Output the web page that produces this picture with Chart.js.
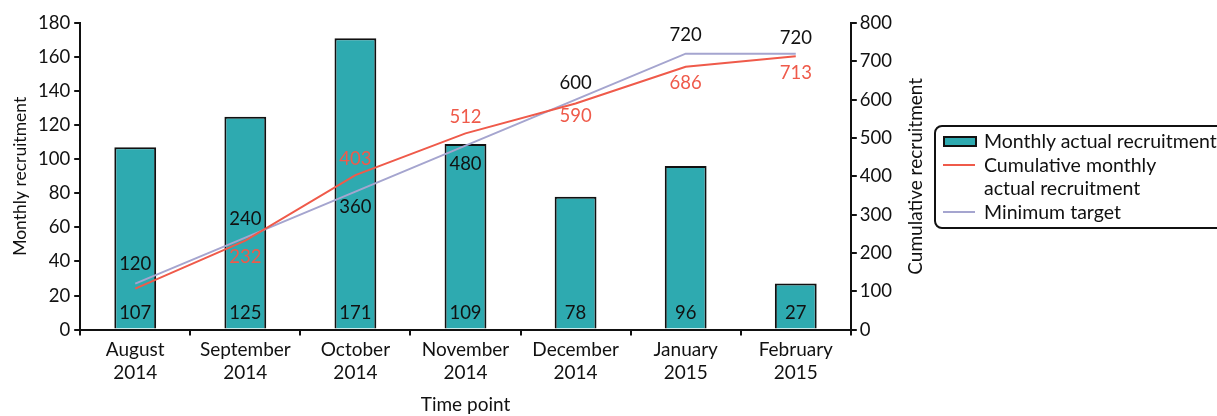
<!DOCTYPE html>
<html>
<head>
<meta charset="utf-8">
<script src="https://cdn.jsdelivr.net/npm/chart.js@4"></script>
<style>
  body { margin: 0; background: #fff; font-family: Lato, sans-serif; }
  #wrap { position: relative; width: 1217px; height: 416px; overflow: hidden; }
  #legend { position: absolute; left: 934px; top: 125px; width: 300px; height: 104px;
            border: 2px solid #111; border-radius: 8px; box-sizing: border-box;
            font-size: 19.5px; color: #111; padding: 2px 0 0 7px; }
  .item { display: flex; align-items: flex-start; line-height: 23.5px; white-space: nowrap; }
  .sw { width: 34px; flex: none; margin-right: 7px; position: relative; height: 23px; }
  .sw .box { position: absolute; top: 7px; left: 0; width: 30px; height: 7px; background: #2eaab0; border: 2px solid #111; }
  .sw .ln { position: absolute; top: 11px; left: 0; width: 32px; height: 2px; }
</style>
</head>
<body>
<div id="wrap">
  <canvas id="chart" width="1217" height="416"></canvas>
  <div id="legend">
    <div class="item"><span class="sw"><span class="box"></span></span><span>Monthly actual recruitment</span></div>
    <div class="item"><span class="sw"><span class="ln" style="background:#ef5a4a"></span></span><span>Cumulative monthly<br>actual recruitment</span></div>
    <div class="item"><span class="sw"><span class="ln" style="background:#a5a5cf"></span></span><span>Minimum target</span></div>
  </div>
</div>
<script>
const meses = [["August", "2014"], ["September", "2014"], ["October", "2014"], ["November", "2014"],
               ["December", "2014"], ["January", "2015"], ["February", "2015"]];
const mensal = [107, 125, 171, 109, 78, 96, 27];
const acumulado = [107, 232, 403, 512, 590, 686, 713];
const meta = [120, 240, 360, 480, 600, 720, 720];

// deslocamento vertical dos rotulos (null = sem rotulo)
const posAcumulado = [null, 16, -16, -16, 13, 16, 17];
const posMeta = [-20, -19, 15, 18, -17, -19, -16];

const vermelho = '#ef5a4a';
const roxo = '#a5a5cf';
const preto = '#111';

const rotulos = {
    id: 'rotulos',
    afterDatasetsDraw(chart) {
        const ctx = chart.ctx;
        ctx.save();
        ctx.font = '18.5px Lato';
        ctx.textAlign = 'center';
        ctx.textBaseline = 'middle';
        chart.getDatasetMeta(0).data.forEach((el, i) => {
            ctx.fillStyle = preto;
            ctx.fillText(mensal[i], el.x, el.base - 16);
        });
        chart.getDatasetMeta(1).data.forEach((el, i) => {
            if (posAcumulado[i] === null) return;
            ctx.fillStyle = vermelho;
            ctx.fillText(acumulado[i], el.x, el.y + posAcumulado[i]);
        });
        chart.getDatasetMeta(2).data.forEach((el, i) => {
            ctx.fillStyle = preto;
            ctx.fillText(meta[i], el.x, el.y + posMeta[i]);
        });
        // titulo do eixo direito, lido de baixo para cima
        const area = chart.chartArea;
        ctx.translate(916, (area.top + area.bottom) / 2);
        ctx.rotate(-Math.PI / 2);
        ctx.font = '19px Lato';
        ctx.fillText('Cumulative recruitment', 0, 0);
        ctx.restore();
    }
};

const tickFont = { family: 'Lato', size: 18.5 };

new Chart(document.getElementById('chart').getContext('2d'), {
    type: 'bar',
    data: {
        labels: meses,
        datasets: [{
            label: 'Monthly actual recruitment',
            data: mensal,
            backgroundColor: '#2eaab0',
            borderColor: preto,
            borderWidth: 2,
            barPercentage: 0.38,
            categoryPercentage: 1,
            yAxisID: 'y',
            order: 3
        }, {
            type: 'line',
            label: 'Cumulative monthly actual recruitment',
            data: acumulado,
            borderColor: vermelho,
            borderWidth: 2,
            pointRadius: 0,
            tension: 0,
            yAxisID: 'y2',
            order: 1
        }, {
            type: 'line',
            label: 'Minimum target',
            data: meta,
            borderColor: roxo,
            borderWidth: 2,
            pointRadius: 0,
            tension: 0,
            yAxisID: 'y2',
            order: 2
        }]
    },
    options: {
        responsive: false,
        animation: false,
        layout: { padding: { left: 7, right: 322, top: 23, bottom: 0 } },
        plugins: { legend: { display: false }, tooltip: { enabled: false } },
        scales: {
            x: {
                grid: { drawOnChartArea: false, color: preto, tickLength: 6, lineWidth: 2 },
                border: { color: preto, width: 2 },
                ticks: { color: preto, font: { family: 'Lato', size: 19 }, padding: 3 },
                title: { display: true, text: 'Time point', color: preto, font: { family: 'Lato', size: 19 }, padding: { top: 6, bottom: 0 } }
            },
            y: {
                position: 'left',
                min: 0, max: 180,
                ticks: { stepSize: 20, color: preto, font: tickFont, padding: 4 },
                grid: { drawOnChartArea: false, color: preto, tickLength: 6, lineWidth: 2 },
                border: { color: preto, width: 2 },
                title: { display: true, text: 'Monthly recruitment', color: preto, font: { family: 'Lato', size: 17.5 }, padding: 3 }
            },
            y2: {
                position: 'right',
                min: 0, max: 800,
                ticks: { stepSize: 100, color: preto, font: tickFont, padding: 3 },
                grid: { drawOnChartArea: false, color: preto, tickLength: 6, lineWidth: 2 },
                border: { color: preto, width: 2 }
            }
        }
    },
    plugins: [rotulos]
});
</script>
</body>
</html>
